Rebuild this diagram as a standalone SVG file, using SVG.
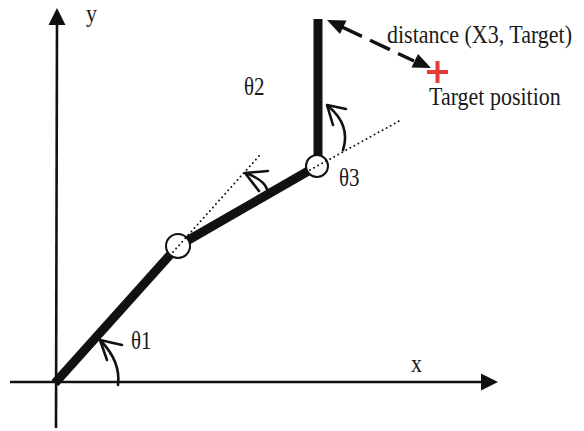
<svg xmlns="http://www.w3.org/2000/svg" width="584" height="431" viewBox="0 0 584 431">
<style>
.axis{stroke:#111;stroke-width:2.6;fill:none}
.head{fill:#111;stroke:none}
.link{stroke:#111;stroke-width:9;fill:none;stroke-linecap:butt}
.joint{fill:#fff;stroke:#111;stroke-width:2}
.dot{stroke:#111;stroke-width:2;fill:none;stroke-dasharray:0 4.6;stroke-linecap:round}
.arc{stroke:#111;stroke-width:2.6;fill:none;stroke-linecap:round;stroke-linejoin:round}
.dash{stroke:#111;stroke-width:3.5;fill:none;stroke-dasharray:22 9}
text{font-family:"Liberation Serif","Times New Roman",serif;font-size:22px;fill:#1a1a1a}
.th{font-size:21px}
.plus{stroke:#e53a35;stroke-width:4;fill:none}
</style>
<g id="axes">
<line class="axis" x1="10" y1="382" x2="484" y2="382"/>
<polygon class="head" points="498,382 481,373.5 481,390.5"/>
<line class="axis" x1="56" y1="428" x2="57" y2="22"/>
<polygon class="head" points="57,8 48.5,25 65.5,25"/>
<text transform="translate(411,372) scale(1,1.15)">x</text>
<text transform="translate(86,22) scale(1,1.15)">y</text>
</g>
<g id="links">
<line class="link" x1="55" y1="383" x2="178" y2="246"/>
<line class="link" x1="178" y1="246" x2="317" y2="166"/>
<line class="link" x1="318" y1="19" x2="318" y2="160"/>
</g>
<g id="joint1">
<circle class="joint" cx="178" cy="246" r="12"/>
</g>
<g id="joint2">
<circle class="joint" cx="317" cy="166" r="11"/>
</g>
<g id="extensions">
<line class="dot" x1="173" y1="252" x2="259" y2="156"/>
<line class="dot" x1="310" y1="170" x2="401" y2="120"/>
</g>
<g id="angle1">
<path class="arc" d="M118,385 Q121,362 101,341"/>
<path class="arc" d="M122,345 L100,340 L107,360"/>
<text class="th" transform="translate(131,349) scale(1,1.15)">θ1</text>
</g>
<g id="angle2">
<path class="arc" d="M267,189 Q264,180 246,173"/>
<path class="arc" d="M268,171 L245,173 L259,191"/>
<text class="th" transform="translate(244,95) scale(1,1.15)">θ2</text>
</g>
<g id="angle3">
<path class="arc" d="M343,150 Q351,125 328,106"/>
<path class="arc" d="M346,109 L327,105 L333,125"/>
<text class="th" transform="translate(339,186) scale(1,1.15)">θ3</text>
</g>
<g id="connectors">
<line class="dash" x1="342" y1="27" x2="414" y2="61"/>
<polygon class="head" points="327,20 346.5,20.5 340,34"/>
<polygon class="head" points="431,68 411.5,67.5 418,54"/>
<text transform="translate(387,43) scale(1,1.15)">distance (X3, Target)</text>
</g>
<g id="target">
<line class="plus" x1="427" y1="72" x2="448" y2="72"/>
<line class="plus" x1="437.5" y1="61" x2="437.5" y2="83"/>
<text transform="translate(429,105) scale(1,1.15)">Target position</text>
</g>
</svg>
